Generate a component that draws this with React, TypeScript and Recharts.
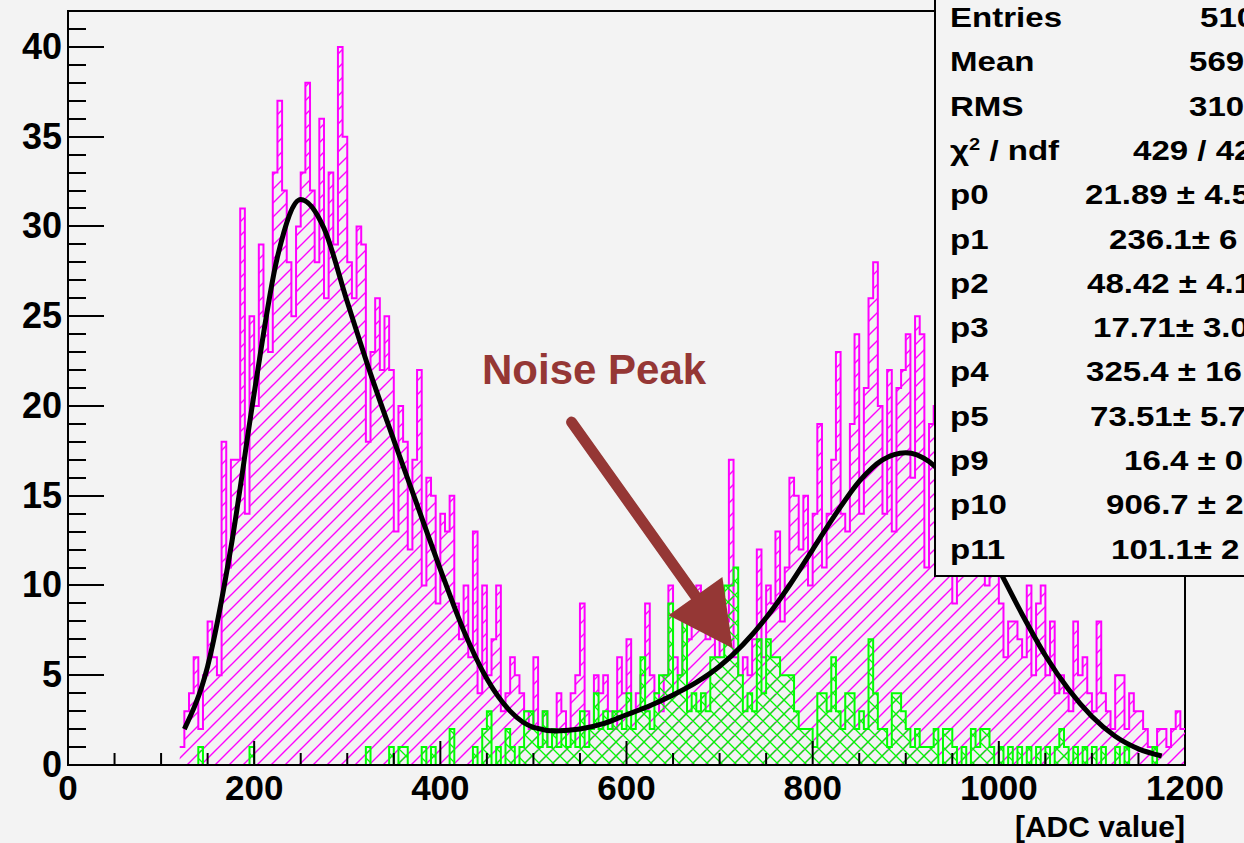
import React from 'react';
import { ComposedChart, Area, Line, XAxis, YAxis, ReferenceLine, ReferenceArea } from 'recharts';

// bins of 5 ADC counts, first bin starts at 120
const BIN_START = 120;
const BIN_WIDTH = 5;

// signal histogram (magenta), 120 .. 1195
const magentaCounts = [
  1, 3, 4, 6, 2, 5, 8, 6, 5, 18,
  11, 17, 17, 31, 14, 25, 20, 29, 25, 23,
  33, 37, 32, 28, 25, 30, 33, 38, 32, 28,
  36, 26, 33, 29, 40, 35, 28, 26, 30, 29,
  18, 23, 26, 22, 25, 22, 13, 20, 18, 12,
  17, 22, 10, 16, 15, 9, 14, 13, 15, 9,
  7, 10, 6, 13, 4, 10, 5, 7, 10, 3,
  4, 6, 5, 4, 3, 2, 6, 2, 3, 1,
  2, 4, 3, 2, 4, 5, 9, 3, 2, 5,
  4, 5, 3, 2, 6, 4, 7, 3, 4, 5,
  9, 5, 4, 3, 5, 10, 6, 5, 8, 7,
  9, 10, 8, 7, 8, 6, 7, 8, 17, 6,
  5, 6, 5, 7, 12, 6, 10, 9, 13, 8,
  11, 16, 15, 12, 15, 10, 14, 19, 11, 14,
  17, 23, 14, 13, 19, 24, 14, 21, 26, 28,
  20, 14, 22, 13, 21, 22, 24, 16, 25, 24,
  11, 19, 20, 18, 21, 15, 9, 17, 13, 16,
  12, 14, 11, 10, 13, 11, 9, 6, 8, 8,
  7, 6, 10, 5, 9, 10, 5, 8, 4, 5,
  4, 3, 8, 5, 6, 4, 3, 8, 4, 3,
  2, 5, 5, 2, 4, 3, 3, 2, 1, 1,
  2, 2, 1, 2, 3, 2,
];

// noise histogram (green), 120 .. 1195
const greenCounts = [
  0, 0, 0, 0, 1, 0, 0, 0, 0, 0,
  0, 0, 0, 0, 0, 1, 0, 0, 0, 0,
  0, 0, 0, 0, 0, 0, 0, 0, 0, 0,
  0, 0, 0, 0, 0, 0, 0, 0, 0, 0,
  1, 0, 0, 0, 0, 1, 0, 1, 1, 0,
  0, 0, 1, 0, 1, 0, 0, 0, 2, 0,
  0, 0, 0, 1, 0, 2, 3, 0, 1, 0,
  2, 1, 0, 1, 3, 3, 2, 1, 3, 1,
  2, 1, 2, 1, 2, 1, 3, 1, 2, 4,
  2, 3, 2, 3, 3, 2, 4, 2, 3, 6,
  3, 2, 4, 5, 5, 9, 4, 5, 8, 3,
  4, 3, 4, 3, 6, 6, 6, 10, 10, 11,
  5, 3, 4, 3, 7, 4, 7, 6, 6, 5,
  5, 5, 3, 2, 2, 2, 1, 4, 4, 3,
  6, 3, 2, 4, 4, 2, 3, 2, 7, 4,
  2, 2, 1, 4, 4, 3, 2, 1, 2, 1,
  1, 1, 2, 0, 2, 2, 1, 0, 1, 0,
  2, 1, 2, 2, 1, 0, 1, 0, 1, 0,
  1, 0, 1, 0, 1, 0, 1, 0, 1, 2,
  1, 0, 1, 0, 1, 0, 1, 0, 1, 0,
  0, 1, 0, 1, 0, 0, 0, 0, 0, 1,
  0, 0, 0, 0, 0, 0,
];

// fit curve
const fitX = [
  125, 150, 175, 200, 225, 250, 275, 300, 325, 350, 375, 400, 425, 450, 475,
  500, 525, 550, 575, 600, 625, 650, 675, 700, 725, 750, 775, 800, 825, 850,
  875, 900, 925, 950, 975, 1000, 1025, 1050, 1075, 1100, 1125, 1150, 1175,
];
const fitY = [
  2.0, 5.5, 12.1, 20.7, 28.3, 31.5, 29.9, 25.8, 21.8, 18.1, 14.5, 10.9, 7.5, 4.8, 3.0,
  2.1, 1.9, 2.0, 2.3, 2.8, 3.3, 3.9, 4.6, 5.5, 6.7, 8.2, 10.0, 12.0, 14.0, 15.8,
  17.0, 17.4, 16.9, 15.5, 13.4, 10.9, 8.4, 6.1, 4.2, 2.7, 1.6, 0.9, 0.5,
];

const xTicks = [0, 50, 100, 150, 200, 250, 300, 350, 400, 450, 500, 550, 600, 650, 700, 750, 800, 850, 900, 950, 1000, 1050, 1100, 1150, 1200];
const yTicks = [0, 1, 2, 3, 4, 5, 6, 7, 8, 9, 10, 11, 12, 13, 14, 15, 16, 17, 18, 19, 20, 21, 22, 23, 24, 25, 26, 27, 28, 29, 30, 31, 32, 33, 34, 35, 36, 37, 38, 39, 40, 41];
const Y_MAX = 42;

const statLabels = ['Entries', 'Mean', 'RMS', 'chi', 'p0', 'p1', 'p2', 'p3', 'p4', 'p5', 'p9', 'p10', 'p11'];
const statValues = ['510', '569', '310', '429 / 42', '21.89 \u00b1 4.5', '236.1\u00b1 6', '48.42 \u00b1 4.1', '17.71\u00b1 3.0', '325.4 \u00b1 16', '73.51\u00b1 5.7', '16.4 \u00b1 0', '906.7 \u00b1 2', '101.1\u00b1 2'];
const statValueLeft = [1200, 1189, 1189, 1133, 1085, 1109, 1087, 1093, 1086, 1090, 1124, 1106, 1111];

const BG = '#f3f3f3';
const NOTE = '#953735';
const FONT = '"Liberation Sans", Arial, Helvetica, sans-serif';

// frame of the plot in page pixels (matches chart margins below)
const PLOT_LEFT = 68;
const PLOT_TOP = 11;
const PLOT_BOTTOM = 765;

function buildTable() {
  const rows = new Map<number, any>();
  const row = (x: number) => {
    if (!rows.has(x)) rows.set(x, { x });
    return rows.get(x);
  };
  row(0).green = 0;
  magentaCounts.forEach((v, i) => { row(BIN_START + i * BIN_WIDTH).magenta = v; });
  greenCounts.forEach((v, i) => { row(BIN_START + i * BIN_WIDTH).green = v; });
  const end = BIN_START + magentaCounts.length * BIN_WIDTH;
  row(end).magenta = magentaCounts[magentaCounts.length - 1];
  row(end).green = greenCounts[greenCounts.length - 1];
  fitX.forEach((x, i) => { row(x).fit = fitY[i]; });
  return Array.from(rows.values()).sort((a, b) => a.x - b.x);
}

const table = buildTable();

// y labels plus the inward tick drawn as a filled bar
const YTick = (p: any) => {
  const v = p.payload.value;
  const major = v % 5 === 0;
  const ax = p.x + 6;
  const ty = Math.round(p.y) - 1;
  return (
    <g>
      <rect x={ax} y={ty} width={major ? 36 : 18} height={2} fill="#000" stroke="none" />
      {major && (
        <text x={p.x} y={p.y + 12} textAnchor="end" fontFamily={FONT} fontWeight="bold" fontSize={36} fill="#000">
          {v}
        </text>
      )}
    </g>
  );
};

const XTick = (p: any) => {
  const v = p.payload.value;
  const major = v % 200 === 0;
  return (
    <g>
      <line x1={p.x} x2={p.x} y1={p.y} y2={p.y - (major ? 24 : 12)} stroke="#000" strokeWidth={2} />
      {major && (
        <text x={p.x} y={p.y + 35} textAnchor="middle" fontFamily={FONT} fontWeight="bold" fontSize={35} fill="#000">
          {v}
        </text>
      )}
    </g>
  );
};

const ArrowShape = (p: any) => {
  const { x1, y1, x2, y2 } = p;
  const dx = x2 - x1;
  const dy = y2 - y1;
  const len = Math.hypot(dx, dy) || 1;
  const ux = dx / len;
  const uy = dy / len;
  const headLen = 64;
  const headHalf = 33;
  const bx = x2 - ux * headLen;
  const by = y2 - uy * headLen;
  const pts = `${x2},${y2} ${bx - uy * headHalf},${by + ux * headHalf} ${bx + uy * headHalf},${by - ux * headHalf}`;
  return (
    <g>
      <line x1={x1} y1={y1} x2={bx + ux * 6} y2={by + uy * 6} stroke={NOTE} strokeWidth={11} strokeLinecap="round" />
      <polygon points={pts} fill={NOTE} />
    </g>
  );
};

const rowBaseline = (i: number) => 28 + i * 44.3;

export default function App() {
  const unit = (PLOT_BOTTOM - PLOT_TOP) / Y_MAX;
  return (
    <div style={{ position: 'absolute', left: 0, top: 0, width: 1244, height: 843, overflow: 'hidden', background: BG, fontFamily: FONT }}>
      <ComposedChart width={1244} height={843} data={table} margin={{ top: PLOT_TOP, right: 59, bottom: 0, left: 0 }}>
        <defs>
          <pattern id="hatchM" width="14" height="14" patternUnits="userSpaceOnUse">
            <path d="M0,14 L14,0 M-2,2 L2,-2 M12,16 L16,12" stroke="#ff00ff" strokeWidth="1.4" />
          </pattern>
          <pattern id="hatchG" width="14" height="14" patternUnits="userSpaceOnUse">
            <path d="M0,14 L14,0 M-2,2 L2,-2 M12,16 L16,12 M0,0 L14,14 M-2,12 L2,16 M12,-2 L16,2" stroke="#00ff00" strokeWidth="1.3" />
          </pattern>
        </defs>
        <XAxis
          dataKey="x"
          type="number"
          domain={[0, 1200]}
          ticks={xTicks}
          interval={0}
          allowDataOverflow
          height={78}
          tickSize={0}
          tickMargin={0}
          tickLine={false}
          axisLine={{ stroke: '#000', strokeWidth: 2 }}
          tick={<XTick />}
        />
        <YAxis
          type="number"
          domain={[0, Y_MAX]}
          ticks={yTicks}
          interval={0}
          allowDataOverflow
          width={PLOT_LEFT}
          tickSize={0}
          tickMargin={6}
          tickLine={false}
          axisLine={{ stroke: '#000', strokeWidth: 2 }}
          tick={<YTick />}
        />
        <ReferenceArea x1={0} x2={1200} y1={0} y2={Y_MAX} fill="none" stroke="#000" strokeWidth={2} ifOverflow="visible" />
        <Area
          type="stepAfter"
          dataKey="magenta"
          stroke="#ff00ff"
          strokeWidth={2}
          fill="url(#hatchM)"
          fillOpacity={1}
          dot={false}
          activeDot={false}
          isAnimationActive={false}
        />
        <Line
          type="monotone"
          dataKey="fit"
          stroke="#000"
          strokeWidth={5}
          dot={false}
          activeDot={false}
          connectNulls
          isAnimationActive={false}
        />
        <Area
          type="stepAfter"
          dataKey="green"
          stroke="#00ff00"
          strokeWidth={2}
          fill="url(#hatchG)"
          fillOpacity={1}
          dot={false}
          activeDot={false}
          isAnimationActive={false}
        />
        <ReferenceLine
          segment={[{ x: 541, y: 19.1 }, { x: 714, y: 6.5 }]}
          ifOverflow="visible"
          shape={<ArrowShape />}
        />
      </ComposedChart>

      {/* inward y-axis ticks, drawn again on top as thin bars */}
      <svg width={1244} height={843} style={{ position: 'absolute', left: 0, top: 0, pointerEvents: 'none', zIndex: 2 }}>
        {yTicks.map((v) => {
          const py = Math.round(PLOT_BOTTOM - v * unit) - 1;
          const len = v % 5 === 0 ? 36 : 18;
          return <rect key={v} x={PLOT_LEFT} y={py} width={len} height={2} fill="#000" />;
        })}
      </svg>

      <div style={{ position: 'absolute', left: 482, top: 349, fontSize: 42, lineHeight: '42px', fontWeight: 'bold', color: NOTE, whiteSpace: 'nowrap' }}>
        Noise Peak
      </div>

      <div style={{ position: 'absolute', right: 1244 - 1185, top: 812, fontSize: 30, lineHeight: '30px', fontWeight: 'bold', color: '#000', whiteSpace: 'nowrap' }}>
        [ADC value]
      </div>

      <div style={{ position: 'absolute', left: 934, top: -20, width: 400, height: 597, border: '2px solid #000', boxSizing: 'border-box', background: BG }} />
      {statLabels.map((lab, i) => (
        <div
          key={lab}
          style={{ position: 'absolute', left: 950, top: rowBaseline(i) - 24, fontSize: 28, lineHeight: '28px', fontWeight: 'bold', whiteSpace: 'nowrap', transform: 'scaleX(1.18)', transformOrigin: 'left center' }}
        >
          {lab === 'chi' ? (
            <span>
              {'\u03c7'}
              <sup style={{ fontSize: 17, lineHeight: 0 }}>2</sup>
              {' / ndf'}
            </span>
          ) : lab}
        </div>
      ))}
      {statValues.map((val, i) => (
        <div
          key={i}
          style={{ position: 'absolute', left: statValueLeft[i], top: rowBaseline(i) - 24, fontSize: 28, lineHeight: '28px', fontWeight: 'bold', whiteSpace: 'nowrap', transform: 'scaleX(1.18)', transformOrigin: 'left center' }}
        >
          {val}
        </div>
      ))}
    </div>
  );
}
